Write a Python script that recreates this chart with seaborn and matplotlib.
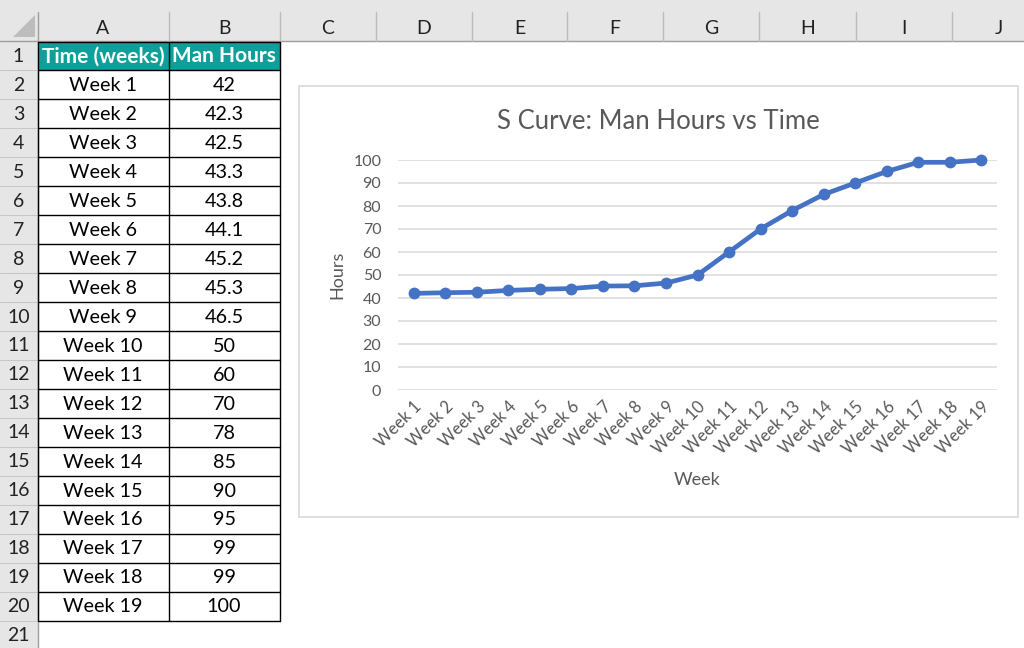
import matplotlib
matplotlib.use('Agg')
import matplotlib.pyplot as plt
import seaborn as sns
import pandas as pd
from matplotlib.patches import Rectangle, Polygon

# dados
weeks = ['Week 1', 'Week 2', 'Week 3', 'Week 4', 'Week 5', 'Week 6', 'Week 7',
         'Week 8', 'Week 9', 'Week 10', 'Week 11', 'Week 12', 'Week 13',
         'Week 14', 'Week 15', 'Week 16', 'Week 17', 'Week 18', 'Week 19']
man_hours = [42, 42.3, 42.5, 43.3, 43.8, 44.1, 45.2, 45.3, 46.5, 50,
             60, 70, 78, 85, 90, 95, 99, 99, 100]
hour_labels = ['42', '42.3', '42.5', '43.3', '43.8', '44.1', '45.2', '45.3', '46.5', '50',
               '60', '70', '78', '85', '90', '95', '99', '99', '100']
col_letters = ['A', 'B', 'C', 'D', 'E', 'F', 'G', 'H', 'I', 'J']
header = ['Time (weeks)', 'Man Hours']

sns.set_theme(style='white')
plt.rcParams['font.family'] = ['Lato', 'DejaVu Sans']

W, H = 1024, 648
fig = plt.figure(figsize=(W / 100, H / 100), dpi=100)

# fundo da planilha (coordenadas em pixels)
bg = fig.add_axes([0, 0, 1, 1])
bg.set_xlim(0, W)
bg.set_ylim(H, 0)
bg.axis('off')

col_edges = [37.5, 168.5, 279.5, 375.7, 471.7, 567.3, 663, 759, 855.5, 951.5, 1047]
row_top = 41.5
row_h = 28.95
n_rows = 21
gray = '#E6E6E6'

# cabecalho das colunas
bg.add_patch(Rectangle((0, 0), W, 40.5, color=gray, lw=0))
bg.add_patch(Rectangle((0, 0), 37.5, H, color=gray, lw=0))
bg.plot([0, W], [40.5, 40.5], color='#9E9E9E', lw=1)
bg.plot([37.5, 37.5], [12, H], color='#9E9E9E', lw=1)
bg.add_patch(Polygon([[35, 15], [35, 37], [13, 37]], color='#BDBDBD', lw=0))
for i, letter in enumerate(col_letters):
    x0, x1 = col_edges[i], col_edges[i + 1]
    bg.plot([x1, x1], [12, 40.5], color='#BDBDBD', lw=1)
    bg.text((x0 + x1) / 2, 28.5, letter, ha='center', va='center',
            fontsize=14, color='#222222')

# numeros das linhas
for r in range(n_rows):
    y0 = row_top + r * row_h
    bg.plot([0, 37.5], [y0 + row_h, y0 + row_h], color='#C8C8C8', lw=0.8)
    bg.text(18.5, y0 + row_h / 2 + 0.5, str(r + 1), ha='center', va='center',
            fontsize=14, color='#222222')

# tabela
xa0, xa1, xb1 = col_edges[0], col_edges[1], col_edges[2]
bg.add_patch(Rectangle((xa0, row_top), xb1 - xa0, row_h, color='#0E9F9A', lw=0))
bg.text((xa0 + xa1) / 2, row_top + row_h / 2 + 0.5, header[0], ha='center', va='center',
        fontsize=15, color='white', fontweight='bold')
bg.text((xa1 + xb1) / 2, row_top + row_h / 2 + 0.5, header[1], ha='center', va='center',
        fontsize=15, color='white', fontweight='bold')
for i, (wk, hl) in enumerate(zip(weeks, hour_labels)):
    yc = row_top + (i + 1.5) * row_h + 0.8
    bg.text((xa0 + xa1) / 2, yc, wk, ha='center', va='center', fontsize=14.2, color='black')
    bg.text((xa1 + xb1) / 2, yc, hl, ha='center', va='center', fontsize=14.2, color='black')
n_tab = len(weeks) + 1
for r in range(n_tab + 1):
    y = row_top + r * row_h
    bg.plot([xa0, xb1], [y, y], color='black', lw=1)
for x in [xa0, xa1, xb1]:
    bg.plot([x, x], [row_top, row_top + n_tab * row_h], color='black', lw=1)

# caixa do grafico
bg.add_patch(Rectangle((298.5, 85.5), 1018 - 298.5, 517 - 85.5, facecolor='white',
                       edgecolor='#D9D9D9', lw=1.2))

# grafico
px0, px1, py_top, py_bot = 398, 997, 160, 390
ax = fig.add_axes([px0 / W, 1 - py_bot / H, (px1 - px0) / W, (py_bot - py_top) / H])
ax.set_facecolor('none')
df = pd.DataFrame({'Week': weeks, 'Hours': man_hours})
sns.lineplot(data=df, x='Week', y='Hours', sort=False, color='#4472C4', lw=3.4,
             marker='o', markersize=8.5, markeredgewidth=0, clip_on=False, ax=ax)
ax.set_xlim(-0.5, len(weeks) - 0.5)
ax.set_ylim(0, 100)
ax.set_yticks(range(0, 101, 10))
ax.grid(axis='y', color='#D9D9D9', lw=1.1)
ax.grid(axis='x', visible=False)
for s in ax.spines.values():
    s.set_visible(False)
ax.tick_params(axis='both', length=0, colors='#595959', labelsize=11.5)
ax.tick_params(axis='x', labelsize=12, pad=6)
ax.tick_params(axis='y', pad=12)
plt.setp(ax.get_xticklabels(), rotation=45, ha='right', va='top', rotation_mode='anchor')

span = py_bot - py_top
ax.set_title('S Curve: Man Hours vs Time', fontsize=18.5, color='#595959',
             x=(658 - px0) / (px1 - px0), y=(py_bot - 130) / span, va='center')
ax.set_xlabel('Week', fontsize=13, color='#595959', va='center')
ax.xaxis.set_label_coords(0.5, (py_bot - 480) / span)
ax.set_ylabel('Hours', fontsize=13, color='#595959', va='center')
ax.yaxis.set_label_coords((337 - px0) / (px1 - px0), 0.5)

plt.savefig('out.png', dpi=100)
plt.close()
